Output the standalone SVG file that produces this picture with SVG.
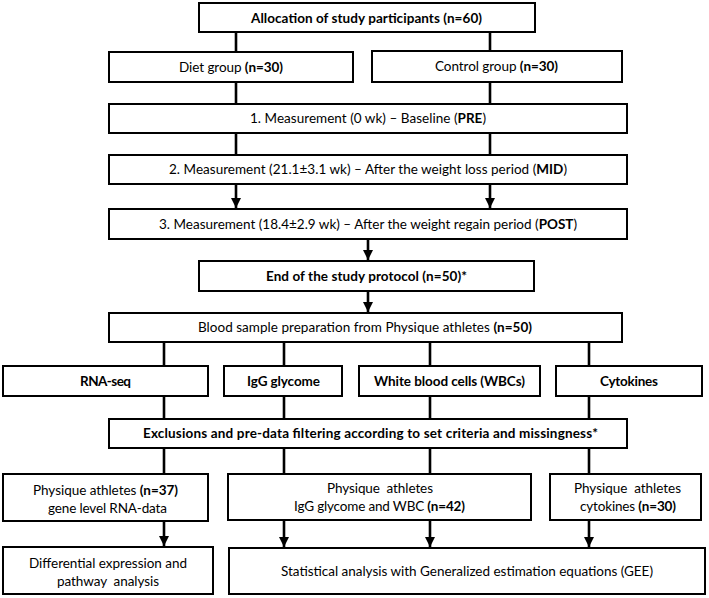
<svg xmlns="http://www.w3.org/2000/svg" width="709" height="598" viewBox="0 0 709 598">
<style>
.box{fill:#fff;stroke:#000;stroke-width:2}
.t{font-family:Lato,"Open Sans",sans-serif;font-size:13.5px;fill:#000;text-anchor:middle}
.b{font-weight:bold}
.ln{stroke:#000;stroke-width:2.6;fill:none}
</style>
<defs>
<marker id="ah" viewBox="0 0 10 10" refX="10" refY="5" markerWidth="10" markerHeight="11" markerUnits="userSpaceOnUse" orient="auto">
<path d="M0,0 L10,5 L0,10 z" fill="#000"/>
</marker>
</defs>
<rect width="709" height="598" fill="#fff"/>
<g id="connectors">
<line class="ln" x1="236" y1="32" x2="236" y2="52"/>
<line class="ln" x1="490" y1="32" x2="490" y2="51"/>
<line class="ln" x1="236" y1="82" x2="236" y2="104"/>
<line class="ln" x1="490" y1="82" x2="490" y2="104"/>
<line class="ln" x1="236" y1="133" x2="236" y2="155"/>
<line class="ln" x1="490" y1="133" x2="490" y2="155"/>
<line class="ln" x1="236" y1="184" x2="236" y2="208" marker-end="url(#ah)"/>
<line class="ln" x1="490" y1="184" x2="490" y2="208" marker-end="url(#ah)"/>
<line class="ln" x1="368" y1="239" x2="368" y2="260" marker-end="url(#ah)"/>
<line class="ln" x1="368" y1="291" x2="368" y2="312" marker-end="url(#ah)"/>
<line class="ln" x1="164" y1="342" x2="164" y2="366"/>
<line class="ln" x1="284" y1="342" x2="284" y2="366"/>
<line class="ln" x1="430" y1="342" x2="430" y2="366"/>
<line class="ln" x1="589" y1="342" x2="589" y2="366"/>
<line class="ln" x1="164" y1="396" x2="164" y2="419"/>
<line class="ln" x1="284" y1="396" x2="284" y2="419"/>
<line class="ln" x1="430" y1="396" x2="430" y2="419"/>
<line class="ln" x1="589" y1="396" x2="589" y2="419"/>
<line class="ln" x1="164" y1="448" x2="164" y2="474"/>
<line class="ln" x1="284" y1="448" x2="284" y2="474"/>
<line class="ln" x1="430" y1="448" x2="430" y2="474"/>
<line class="ln" x1="589" y1="448" x2="589" y2="474"/>
<line class="ln" x1="164" y1="521" x2="164" y2="546" marker-end="url(#ah)"/>
<line class="ln" x1="284" y1="520" x2="284" y2="547" marker-end="url(#ah)"/>
<line class="ln" x1="430" y1="520" x2="430" y2="547" marker-end="url(#ah)"/>
<line class="ln" x1="589" y1="520" x2="589" y2="547" marker-end="url(#ah)"/>
</g>
<g id="allocation"><rect class="box" x="199" y="3" width="336" height="29"/>
<text class="t b" x="366.5" y="22.5" textLength="231">Allocation of study participants (n=60)</text></g>
<g id="diet"><rect class="box" x="109" y="52" width="244" height="30"/>
<text class="t" x="231" y="71.5" textLength="104">Diet group <tspan class="b">(n=30)</tspan></text></g>
<g id="control"><rect class="box" x="372" y="51" width="250" height="31"/>
<text class="t" x="496.5" y="71" textLength="123">Control group <tspan class="b">(n=30)</tspan></text></g>
<g id="m1"><rect class="box" x="109" y="104" width="518" height="29"/>
<text class="t" x="368" y="123" textLength="236">1. Measurement (0 wk) – Baseline (<tspan class="b">PRE</tspan>)</text></g>
<g id="m2"><rect class="box" x="109" y="155" width="518" height="29"/>
<text class="t" x="368" y="174" textLength="398">2. Measurement (21.1±3.1 wk) – After the weight loss period (<tspan class="b">MID</tspan>)</text></g>
<g id="m3"><rect class="box" x="109" y="209" width="518" height="30"/>
<text class="t" x="368" y="228.5" textLength="418">3. Measurement (18.4±2.9 wk) – After the weight regain period (<tspan class="b">POST</tspan>)</text></g>
<g id="end"><rect class="box" x="199" y="261" width="335" height="30"/>
<text class="t b" x="366.5" y="280.5" textLength="201">End of the study protocol (n=50)*</text></g>
<g id="blood"><rect class="box" x="109" y="313" width="513" height="29"/>
<text class="t" x="365" y="332" textLength="334">Blood sample preparation from Physique athletes <tspan class="b">(n=50)</tspan></text></g>
<g id="rnaseq"><rect class="box" x="3" y="366" width="205" height="30"/>
<text class="t b" x="105.5" y="385.5" textLength="51">RNA-seq</text></g>
<g id="igg"><rect class="box" x="224" y="366" width="118" height="30"/>
<text class="t b" x="283.5" y="385.5" textLength="73">IgG glycome</text></g>
<g id="wbc"><rect class="box" x="359" y="366" width="181" height="30"/>
<text class="t b" x="449.5" y="385.5" textLength="151">White blood cells (WBCs)</text></g>
<g id="cytokines"><rect class="box" x="556" y="366" width="146" height="30"/>
<text class="t b" x="629" y="385.5" textLength="58">Cytokines</text></g>
<g id="exclusions"><rect class="box" x="109" y="419" width="518" height="29"/>
<text class="t b" x="370.5" y="438" textLength="455">Exclusions and pre-data filtering according to set criteria and missingness*</text></g>
<g id="phys37"><rect class="box" x="3" y="474" width="205" height="47"/>
<text class="t" x="105.5" y="494.5" textLength="145">Physique athletes <tspan class="b">(n=37)</tspan></text>
<text class="t" x="107.5" y="512.5" textLength="119">gene level RNA-data</text></g>
<g id="phys42"><rect class="box" x="228" y="474" width="303" height="46"/>
<text class="t" x="380" y="493" textLength="106" xml:space="preserve">Physique  athletes</text>
<text class="t" x="379.5" y="511" textLength="171">IgG glycome and WBC <tspan class="b">(n=42)</tspan></text></g>
<g id="phys30"><rect class="box" x="550" y="474" width="151" height="46"/>
<text class="t" x="627.5" y="493" textLength="107" xml:space="preserve">Physique  athletes</text>
<text class="t" x="628" y="511" textLength="96">cytokines <tspan class="b">(n=30)</tspan></text></g>
<g id="diff"><rect class="box" x="3" y="547" width="210" height="47"/>
<text class="t" x="108" y="567.5" textLength="158">Differential expression and</text>
<text class="t" x="108" y="585.5" textLength="102" xml:space="preserve">pathway  analysis</text></g>
<g id="gee"><rect class="box" x="229" y="548" width="476" height="46"/>
<text class="t" x="467" y="575.5" textLength="372">Statistical analysis with Generalized estimation equations (GEE)</text></g>
</svg>
